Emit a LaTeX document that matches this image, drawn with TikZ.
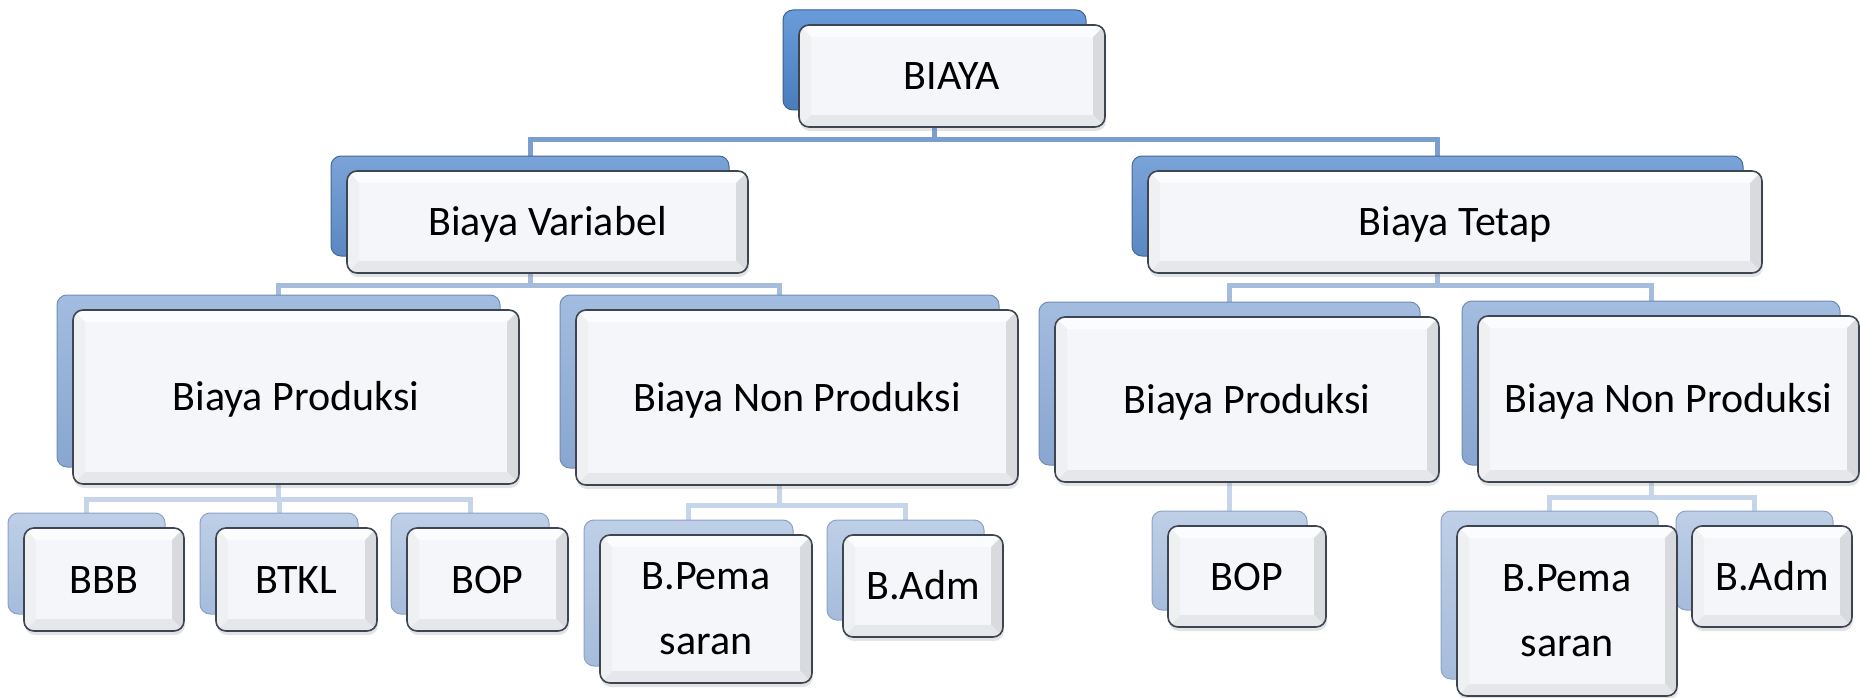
\documentclass[tikz,border=0pt]{standalone}
\usepackage{fontspec}
\newfontfamily\boxfont{Carlito}
\usetikzlibrary{backgrounds, shadows}

\definecolor{lvlAtop}{HTML}{6A9BDA}
\definecolor{lvlA}{HTML}{4A7BBA}
\definecolor{lvlAline}{HTML}{385F93}
\definecolor{lvlBtop}{HTML}{7AA3D8}
\definecolor{lvlB}{HTML}{5B88C2}
\definecolor{lvlBline}{HTML}{46699A}
\definecolor{lvlCtop}{HTML}{A3BCE0}
\definecolor{lvlC}{HTML}{88A6CF}
\definecolor{lvlCline}{HTML}{6F8DB6}
\definecolor{lvlDtop}{HTML}{BECFE7}
\definecolor{lvlD}{HTML}{A6BCDB}
\definecolor{lvlDline}{HTML}{8CA3C4}
\definecolor{frameline}{HTML}{3D4553}
\definecolor{panel}{HTML}{F4F6F9}
\definecolor{bevtop}{HTML}{FBFCFD}
\definecolor{bevright}{HTML}{D8DADD}
\definecolor{bevbottom}{HTML}{E5E7EA}
\definecolor{bevleft}{HTML}{EEF0F2}
\definecolor{linkA}{HTML}{7B9ED1}
\definecolor{linkB}{HTML}{A5BCDD}
\definecolor{linkC}{HTML}{C7D5EA}

\begin{document}
\begin{tikzpicture}[x=1pt, y=-1pt,
    back/.style={rounded corners=10pt, inner sep=0pt, line width=1pt},
    back1/.style={back, draw=lvlAline, top color=lvlAtop, bottom color=lvlA},
    back2/.style={back, draw=lvlBline, top color=lvlBtop, bottom color=lvlB},
    back3/.style={back, draw=lvlCline, top color=lvlCtop, bottom color=lvlC},
    back4/.style={back, draw=lvlDline, top color=lvlDtop, bottom color=lvlD},
    front/.style={rounded corners=10pt, inner sep=0pt, draw=frameline, line width=1.6pt,
        fill=panel, align=center, font=\boxfont\fontsize{42pt}{65pt}\selectfont,
        drop shadow={shadow xshift=1pt, shadow yshift=-4pt, opacity=0.22},
        path picture={
            \path (path picture bounding box.north west) coordinate (o1)
                  (path picture bounding box.north east) coordinate (o2)
                  (path picture bounding box.south east) coordinate (o3)
                  (path picture bounding box.south west) coordinate (o4);
            \fill[sharp corners, bevtop] (o1) -- (o2) -- ([shift={(-12pt,-12pt)}]o2) -- ([shift={(12pt,-12pt)}]o1) -- cycle;
            \fill[sharp corners, bevright] (o2) -- (o3) -- ([shift={(-12pt,12pt)}]o3) -- ([shift={(-12pt,-12pt)}]o2) -- cycle;
            \fill[sharp corners, bevbottom] (o3) -- (o4) -- ([shift={(12pt,12pt)}]o4) -- ([shift={(-12pt,12pt)}]o3) -- cycle;
            \fill[sharp corners, bevleft] (o4) -- (o1) -- ([shift={(12pt,-12pt)}]o1) -- ([shift={(12pt,12pt)}]o4) -- cycle;
        }},
    word/.style={front, text height=27pt, text depth=0pt},
    link1/.style={draw=linkA, line width=5pt},
    link2/.style={draw=linkB, line width=5pt},
    link3/.style={draw=linkC, line width=5pt}]

    \useasboundingbox (0,0) rectangle (1860,698);

    % back boxes
    \node[back1, minimum width=303pt, minimum height=100pt] (biaya-b) at (934.5,60) {};
    \node[back2, minimum width=398pt, minimum height=100pt] (bv-b) at (530,206) {};
    \node[back2, minimum width=611pt, minimum height=100pt] (bt-b) at (1437.5,206) {};
    \node[back3, minimum width=443pt, minimum height=172pt] (bvp-b) at (278.5,381) {};
    \node[back3, minimum width=439pt, minimum height=173pt] (bvn-b) at (779.5,381.5) {};
    \node[back3, minimum width=381pt, minimum height=163pt] (btp-b) at (1229.5,383.5) {};
    \node[back3, minimum width=378pt, minimum height=164pt] (btn-b) at (1651,383) {};
    \node[back4, minimum width=157pt, minimum height=101pt] (bbb-b) at (86.5,563.5) {};
    \node[back4, minimum width=158pt, minimum height=101pt] (btkl-b) at (279,563.5) {};
    \node[back4, minimum width=158pt, minimum height=101pt] (bop1-b) at (470,563.5) {};
    \node[back4, minimum width=209pt, minimum height=146pt] (pem1-b) at (688.5,593) {};
    \node[back4, minimum width=157pt, minimum height=100pt] (adm1-b) at (905.5,570) {};
    \node[back4, minimum width=155pt, minimum height=99pt] (bop2-b) at (1229.5,560.5) {};
    \node[back4, minimum width=217pt, minimum height=168pt] (pem2-b) at (1549.5,595) {};
    \node[back4, minimum width=157pt, minimum height=99pt] (adm2-b) at (1754.5,560.5) {};

    % front boxes
    \node[word, minimum width=306pt, minimum height=102pt] (biaya) at (952,76) {BIAYA};
    \node[word, minimum width=401pt, minimum height=102pt] (bv) at (547.5,222) {Biaya Variabel};
    \node[word, minimum width=614pt, minimum height=102pt] (bt) at (1455,222) {Biaya Tetap};
    \node[word, minimum width=446pt, minimum height=174pt] (bvp) at (296,397) {Biaya Produksi};
    \node[word, minimum width=442pt, minimum height=175pt] (bvn) at (797,397.5) {Biaya Non Produksi};
    \node[word, minimum width=384pt, minimum height=165pt] (btp) at (1247,399.5) {Biaya Produksi};
    \node[word, minimum width=381pt, minimum height=166pt] (btn) at (1668.5,399) {Biaya Non Produksi};
    \node[word, minimum width=160pt, minimum height=103pt] (bbb) at (104,579.5) {BBB};
    \node[word, minimum width=161pt, minimum height=103pt] (btkl) at (296.5,579.5) {BTKL};
    \node[word, minimum width=161pt, minimum height=103pt] (bop1) at (487.5,579.5) {BOP};
    \node[front, minimum width=212pt, minimum height=148pt] (pem1) at (706,609) {B.Pema\\saran};
    \node[word, minimum width=160pt, minimum height=102pt] (adm1) at (923,586) {B.Adm};
    \node[word, minimum width=158pt, minimum height=101pt] (bop2) at (1247,576.5) {BOP};
    \node[front, minimum width=220pt, minimum height=170pt] (pem2) at (1567,611) {B.Pema\\saran};
    \node[word, minimum width=160pt, minimum height=101pt] (adm2) at (1772,576.5) {B.Adm};

    % connectors
    \begin{scope}[on background layer]
        \coordinate (r1) at (0,140);
        \coordinate (r2) at (0,285);
        \coordinate (r3) at (0,499);
        \coordinate (r4) at (0,505);
        \coordinate (r5) at (0,497);
        \draw[link1] (biaya-b) -- (biaya-b |- r1) -| (bv-b.north);
        \draw[link1] (biaya-b |- r1) -| (bt-b.north);
        \draw[link2] (bv-b) -- (bv-b |- r2) -| (bvp-b.north);
        \draw[link2] (bv-b |- r2) -| (bvn-b.north);
        \draw[link2] (bt-b) -- (bt-b |- r2) -| (btp-b.north);
        \draw[link2] (bt-b |- r2) -| (btn-b.north);
        \draw[link3] (bvp-b) -- (bvp-b |- r3) -| (bbb-b.north);
        \draw[link3] (bvp-b |- r3) -| (btkl-b.north);
        \draw[link3] (bvp-b |- r3) -| (bop1-b.north);
        \draw[link3] (bvn-b) -- (bvn-b |- r4) -| (pem1-b.north);
        \draw[link3] (bvn-b |- r4) -| (adm1-b.north);
        \draw[link3] (btp-b) -- (bop2-b.north);
        \draw[link3] (btn-b) -- (btn-b |- r5) -| (pem2-b.north);
        \draw[link3] (btn-b |- r5) -| (adm2-b.north);
    \end{scope}
\end{tikzpicture}
\end{document}
